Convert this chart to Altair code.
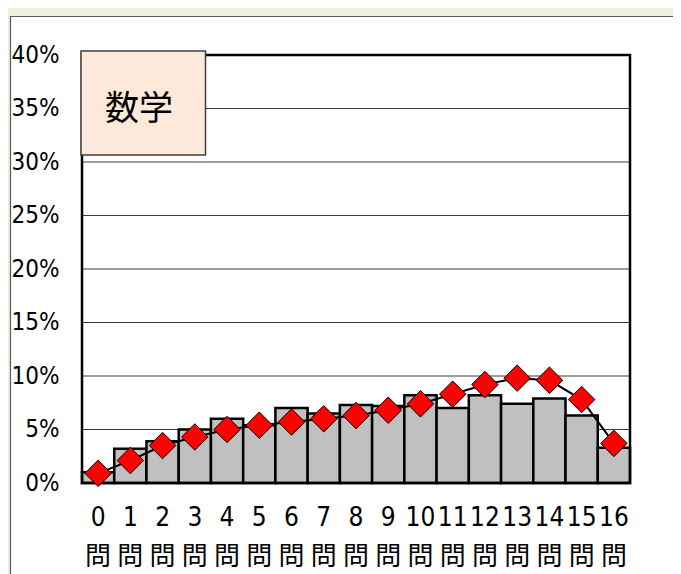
import altair as alt
import pandas as pd

categories = [str(i) for i in range(17)]
bar_values = [0.010, 0.032, 0.039, 0.050, 0.060, 0.054, 0.070, 0.065, 0.073,
              0.072, 0.082, 0.070, 0.082, 0.074, 0.079, 0.063, 0.033]
line_values = [0.009, 0.021, 0.035, 0.043, 0.050, 0.054, 0.057, 0.060, 0.063,
               0.068, 0.074, 0.083, 0.092, 0.098, 0.096, 0.078, 0.037]
y_ticks = [0, 0.05, 0.10, 0.15, 0.20, 0.25, 0.30, 0.35, 0.40]
grid_values = [0.05, 0.10, 0.15, 0.20, 0.25, 0.30, 0.35]
title_text = "数学"

df = pd.DataFrame({"q": categories, "bar": bar_values, "line": line_values})
grid_df = pd.DataFrame({"g": grid_values})

W, H = 548, 428
FONT = "DejaVu Sans Condensed, Liberation Sans, Noto Sans CJK JP, sans-serif"
JP = "Noto Sans CJK JP, sans-serif"

yscale = alt.Scale(domain=[0, 0.4], nice=False, zero=True)
yaxis = alt.Axis(values=y_ticks, format=".0%", title=None, grid=False, domain=False,
                 ticks=False, tickSize=0, labelFontSize=24, labelFont=FONT,
                 labelColor="black", labelPadding=23, zindex=1)
xaxis = alt.Axis(title=None, labelAngle=0, domain=False, ticks=False, tickSize=0,
                 labelFontSize=26, labelFont=FONT, labelColor="black",
                 labelPadding=21, labelLineHeight=39,
                 labelExpr="[datum.label, '問']", zindex=1)
X = alt.X("q:N", sort=categories, scale=alt.Scale(paddingInner=0, paddingOuter=0),
          axis=xaxis)

one = alt.Data(values=[{"a": 1}])

panel = alt.Chart(one).mark_rect(fill="white", stroke="#595959", strokeWidth=1.2).encode(
    x=alt.value(-71.5), x2=alt.value(620), y=alt.value(-38.5), y2=alt.value(560))

grid = alt.Chart(grid_df).mark_rule(color="#3a3a3a", strokeWidth=1).encode(
    y=alt.Y("g:Q", scale=yscale, axis=yaxis), x=alt.value(0), x2=alt.value(W))

base = alt.Chart(df).encode(x=X)
bars = base.mark_bar(fill="#C0C0C0", stroke="black", strokeWidth=2.5, opacity=1).encode(
    y=alt.Y("bar:Q", scale=yscale, axis=yaxis))

frame = alt.Chart(one).mark_rect(fill=None, stroke="black", strokeWidth=2.5).encode(
    x=alt.value(0), x2=alt.value(W), y=alt.value(0), y2=alt.value(H))

line = base.mark_line(color="black", strokeWidth=2).encode(
    y=alt.Y("line:Q", scale=yscale, axis=yaxis))
points = base.mark_point(shape="diamond", filled=True, fill="#FF0000", stroke="black",
                         strokeWidth=1, size=700, opacity=1).encode(
    y=alt.Y("line:Q", scale=yscale, axis=yaxis))

tbox = alt.Chart(one).mark_rect(fill="#FDE9D9", stroke="#404040", strokeWidth=1.5).encode(
    x=alt.value(-1), x2=alt.value(123.5), y=alt.value(-4), y2=alt.value(100))
ttext = alt.Chart(one).mark_text(text=title_text, font=JP, fontSize=34, color="black",
                                 align="center", baseline="middle").encode(
    x=alt.value(57), y=alt.value(55))

chart = alt.layer(panel, grid, bars, frame, line, points, tbox, ttext).properties(
    width=W, height=H,
    padding={"left": 74, "top": 47, "right": 43, "bottom": 91},
    autosize=alt.AutoSizeParams(type="none"),
    background="#EBF1DE",
).configure_view(stroke=None)

chart.save("out.html", embed_options={"renderer": "svg", "actions": False})
